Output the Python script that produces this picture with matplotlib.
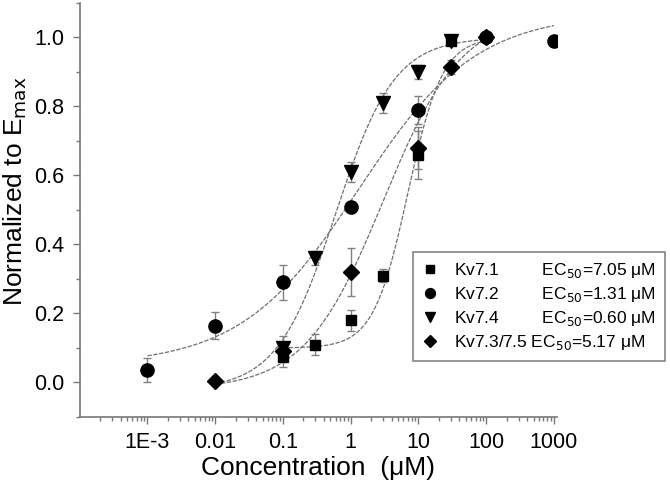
#!/usr/bin/env python3

import matplotlib
matplotlib.use("Agg")
import matplotlib.pyplot as plt
import matplotlib.ticker as ticker
from matplotlib.lines import Line2D
import numpy as np

plt.rcParams['font.family'] = ['Liberation Sans', 'DejaVu Sans']

# measured points (concentration in uM, normalized response, error)
kv71_x = [0.1, 0.3, 1, 3, 10, 30]
kv71_y = [0.075, 0.11, 0.18, 0.31, 0.66, 0.99]
kv71_err = [0.03, 0.03, 0.03, 0.02, 0.07, 0.01]

kv72_x = [1e-3, 0.01, 0.1, 1, 10, 100, 1000]
kv72_y = [0.035, 0.165, 0.29, 0.51, 0.79, 1.0, 0.99]
kv72_err = [0.035, 0.04, 0.05, 0.01, 0.04, 0.01, 0.0]

kv74_x = [0.1, 0.3, 1, 3, 10, 30]
kv74_y = [0.10, 0.36, 0.61, 0.81, 0.90, 0.99]
kv74_err = [0.035, 0.02, 0.03, 0.03, 0.02, 0.01]

kv735_x = [0.01, 0.1, 1, 10, 30, 100]
kv735_y = [0.005, 0.09, 0.32, 0.68, 0.915, 1.0]
kv735_err = [0.01, 0.02, 0.07, 0.06, 0.02, 0.01]

names = ["Kv7.1", "Kv7.2", "Kv7.4", "Kv7.3/7.5"]
ec50_text = ["7.05", "1.31", "0.60", "5.17"]

# Hill fit parameters: bottom, top, ec50, slope, x range
fit_bottom = [0.10, 0.05, -0.02, -0.02]
fit_top = [1.0, 1.07, 1.0, 1.07]
fit_ec50 = [7.0, 1.31, 0.6, 3.0]
fit_slope = [1.7, 0.5, 1.0, 0.75]
fit_xmin = [0.1, 1e-3, 0.01, 0.01]
fit_xmax = [100, 1000, 100, 100]

def hill(x, bottom, top, ec50, n):
    return bottom + (top - bottom) / (1 + (ec50 / x) ** n)

fig = plt.figure(figsize=(6.7, 4.88), dpi=100)
ax = fig.add_axes([0.119, 0.1455, 0.712, 0.8485])

data = [(kv71_x, kv71_y, kv71_err, 's', 7.5),
        (kv72_x, kv72_y, kv72_err, 'o', 9.5),
        (kv74_x, kv74_y, kv74_err, 'v', 9.5),
        (kv735_x, kv735_y, kv735_err, 'D', 8)]

for i in range(4):
    xs = np.logspace(np.log10(fit_xmin[i]), np.log10(fit_xmax[i]), 300)
    ax.plot(xs, hill(xs, fit_bottom[i], fit_top[i], fit_ec50[i], fit_slope[i]),
            color='#707070', lw=0.9, dashes=(3.5, 1.2), zorder=1)

handles = []
for (x, y, err, m, ms) in data:
    ax.errorbar(x, y, yerr=err, fmt='none', ecolor='#808080', elinewidth=1,
                capsize=3, capthick=1, zorder=2)
    ax.plot(x, y, linestyle='none', marker=m, color='black', markersize=ms, zorder=3)
    handles.append(Line2D([], [], linestyle='none', marker=m, color='black',
                          markersize=ms * 0.75))

ax.set_xscale('log')
ax.set_xlim(1e-4, 1100)
ax.set_ylim(-0.1, 1.1)

ax.xaxis.set_major_locator(ticker.FixedLocator([1e-3, 1e-2, 0.1, 1, 10, 100, 1000]))
ax.xaxis.set_major_formatter(ticker.FixedFormatter(["1E-3", "0.01", "0.1", "1", "10", "100", "1000"]))
ax.xaxis.set_minor_locator(ticker.LogLocator(base=10, subs=np.arange(2, 10), numticks=20))
ax.xaxis.set_minor_formatter(ticker.NullFormatter())
ax.yaxis.set_major_locator(ticker.MultipleLocator(0.2))
ax.yaxis.set_minor_locator(ticker.MultipleLocator(0.1))
ax.yaxis.set_major_formatter(ticker.FormatStrFormatter('%.1f'))

for s in ['top', 'right']:
    ax.spines[s].set_visible(False)
for s in ['left', 'bottom']:
    ax.spines[s].set_color('#777777')
    ax.spines[s].set_linewidth(1.2)

ax.tick_params(which='major', direction='out', length=5, width=1, color='#777777',
               labelsize=15.5, pad=6)
ax.tick_params(which='minor', direction='out', length=3, width=1, color='#777777')

ax.set_xlabel("Concentration  (\u03bcM)", fontsize=19, labelpad=2)
ax.set_ylabel("Normalized to E$_{\\rm max}$", fontsize=19)
ax.yaxis.set_label_coords(-0.107, 0.545)

labels = []
for name, ec in zip(names, ec50_text):
    pad = " " * (1 if name == "Kv7.3/7.5" else 9)
    labels.append(name + pad + "EC$_{\\rm 50}$=" + ec + " \u03bcM")

leg = ax.legend(handles, labels, loc='upper right', bbox_to_anchor=(0.9925, 0.4836),
                bbox_transform=fig.transFigure, borderaxespad=0, fontsize=12.5,
                frameon=True, fancybox=False, handlelength=1.0, handletextpad=0.9,
                labelspacing=0.3, borderpad=0.5)
leg.get_frame().set_edgecolor('#666666')
leg.get_frame().set_linewidth(1.2)

fig.savefig("out.png", dpi=100)
